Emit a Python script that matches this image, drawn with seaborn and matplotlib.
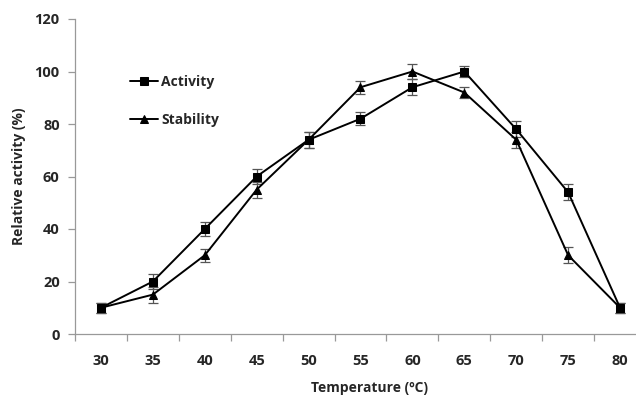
import matplotlib
matplotlib.use("Agg")
import matplotlib.pyplot as plt
import seaborn as sns
import pandas as pd
import numpy as np

temperatures = ["30", "35", "40", "45", "50", "55", "60", "65", "70", "75", "80"]
activity = [10, 20, 40, 60, 74, 82, 94, 100, 78, 54, 10]
activity_err = [2, 3, 2.5, 3, 3, 2.5, 3, 2, 3, 3, 2]
stability = [10, 15, 30, 55, 74, 94, 100, 92, 74, 30, 10]
stability_err = [2, 3, 2.5, 3, 3, 2.5, 3, 2, 3, 3, 2]
series_names = ["Activity", "Stability"]

sns.set_theme(style="white")
plt.rcParams["font.family"] = ["Open Sans", "DejaVu Sans"]

pos = np.arange(len(temperatures))
df = pd.DataFrame({
    "pos": np.concatenate([pos, pos]),
    "value": activity + stability,
    "err": activity_err + stability_err,
    "series": [series_names[0]] * len(pos) + [series_names[1]] * len(pos),
})

fig = plt.figure(figsize=(6.36, 3.97), dpi=100)
ax = fig.add_axes([75 / 636, 1 - 334 / 397, 571 / 636, 315 / 397])

for name in series_names:
    sub = df[df["series"] == name]
    ax.errorbar(sub["pos"], sub["value"], yerr=sub["err"], fmt="none",
                ecolor="#555555", elinewidth=0.9, capsize=3.5, capthick=0.9, zorder=2)

sns.lineplot(data=df, x="pos", y="value", hue="series", style="series",
             markers={"Activity": "s", "Stability": "^"}, dashes=False,
             palette={"Activity": "black", "Stability": "black"},
             markersize=6, markeredgecolor="black", linewidth=1.4,
             ax=ax, legend=True, zorder=3)

ax.set_xlim(-0.5, len(temperatures) - 0.5)
ax.set_ylim(0, 120)
ax.set_yticks(range(0, 121, 20))
ax.set_xticks(pos)
ax.set_xticklabels(temperatures)
ax.set_xticks(np.arange(-0.5, len(temperatures), 1), minor=True)
ax.tick_params(axis="x", which="major", length=0, pad=14.5, labelsize=10.5)
ax.tick_params(axis="x", which="minor", length=5, width=0.9, color="#999999", direction="out", bottom=True)
ax.tick_params(axis="y", length=5, width=0.9, color="#999999", direction="out", left=True, labelsize=10.5, pad=6)
for lab in ax.get_xticklabels() + ax.get_yticklabels():
    lab.set_fontweight("bold")

for s in ["top", "right"]:
    ax.spines[s].set_visible(False)
for s in ["left", "bottom"]:
    ax.spines[s].set_color("#999999")
    ax.spines[s].set_linewidth(0.9)

ax.set_xlabel("Temperature (ºC)", fontweight="bold", fontsize=10)
ax.xaxis.set_label_coords((370 - 75) / 571, -47 / 315)
ax.set_ylabel("Relative activity (%)", fontweight="bold", fontsize=10)
ax.yaxis.set_label_coords(-49 / 571, 0.5)

handles, labels = ax.get_legend_handles_labels()
leg = ax.legend(handles, labels, loc="upper left", bbox_to_anchor=(0.075, 0.862),
                frameon=False, handlelength=2.0, labelspacing=1.75,
                prop={"weight": "bold", "size": 10}, handletextpad=0.2)

fig.savefig("out.png", dpi=100, facecolor="white")
